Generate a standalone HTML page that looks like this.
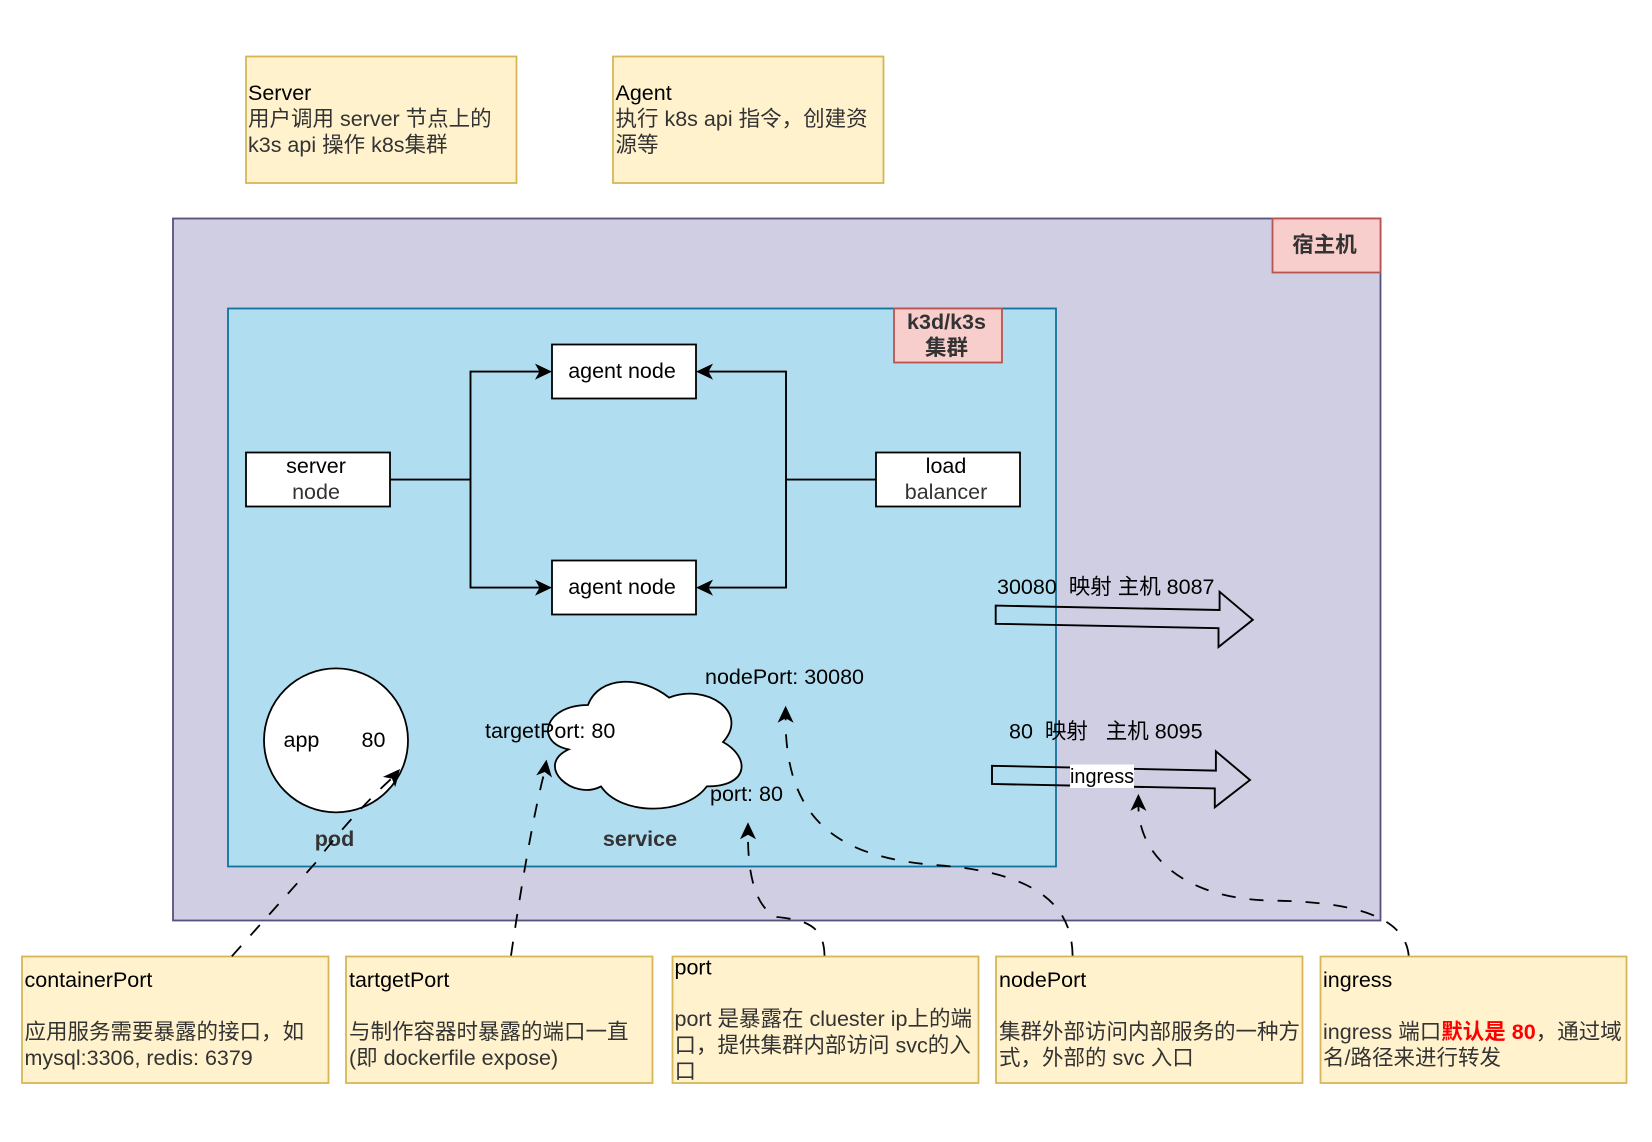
<!DOCTYPE html>
<html><head><meta charset="utf-8"><style>
html,body{margin:0;padding:0;background:#fff}
svg{display:block}
text{font-family:"Liberation Sans","Noto Sans CJK SC",sans-serif;font-size:21.5px;white-space:pre;fill:#000}
.g{fill:#333}
.b{font-weight:bold;fill:#333}
.c{text-anchor:middle}
.y{fill:#fff2cc;stroke:#d6b656;stroke-width:1.8}
.w{fill:#fff;stroke:#000;stroke-width:1.8}
.l{fill:none;stroke:#000;stroke-width:1.9}
.d{fill:none;stroke:#000;stroke-width:1.8;stroke-dasharray:14 14}
</style></head><body>
<svg xmlns="http://www.w3.org/2000/svg" width="1652" height="1142" viewBox="0 0 1652 1142">
<rect width="1652" height="1142" fill="#fff"/>
<defs><polygon id="h" points="0,0 -17,-8 -12.5,0 -17,8" fill="#000"/></defs>

<rect class="y" x="246" y="56.5" width="270.5" height="126.5"/>
<text x="248" y="100">Server</text>
<text class="g" x="248" y="126">用户调用 server 节点上的</text>
<text class="g" x="248" y="152">k3s api 操作 k8s集群</text>

<rect class="y" x="613" y="56.5" width="270.5" height="126.5"/>
<text x="615.5" y="100">Agent</text>
<text class="g" x="615.5" y="126">执行 k8s api 指令，创建资</text>
<text class="g" x="615.5" y="152">源等</text>

<rect x="173" y="218.5" width="1207.5" height="702" fill="#d0cee2" stroke="#56517e" stroke-width="1.8"/>
<rect x="1272.5" y="218.5" width="108" height="54" fill="#f8cecc" stroke="#b85450" stroke-width="1.8"/>
<text class="b c" x="1324.5" y="252">宿主机</text>

<rect x="228" y="308.5" width="828" height="558" fill="#b1ddf0" stroke="#10739e" stroke-width="1.8"/>
<rect x="894" y="308.5" width="108" height="54" fill="#f8cecc" stroke="#b85450" stroke-width="1.8"/>
<text class="b c" x="946.5" y="329">k3d/k3s</text>
<text class="b c" x="946.5" y="355">集群</text>

<path class="l" d="M390 479.6H470.5M540 371.6H470.5V587.6H540"/>
<path class="l" d="M876 479.6H786M708 371.6H786V587.6H708"/>
<use href="#h" transform="translate(552,371.6)"/>
<use href="#h" transform="translate(552,587.6)"/>
<use href="#h" transform="translate(696,371.6) rotate(180)"/>
<use href="#h" transform="translate(696,587.6) rotate(180)"/>

<rect class="w" x="552" y="344.5" width="144" height="54"/>
<text class="c" x="622" y="378">agent node</text>
<rect class="w" x="552" y="560.5" width="144" height="54"/>
<text class="c" x="622" y="594">agent node</text>
<rect class="w" x="246" y="452.5" width="144" height="54"/>
<text class="c" x="316" y="473">server</text>
<text class="g c" x="316" y="499">node</text>
<rect class="w" x="876" y="452.5" width="144" height="54"/>
<text class="c" x="946" y="473">load</text>
<text class="g c" x="946" y="499">balancer</text>

<circle class="w" cx="336" cy="740.4" r="72"/>
<text x="283.5" y="747">app</text>
<text x="361.5" y="747">80</text>
<text class="b c" x="334.5" y="846">pod</text>

<path class="w" d="M588 705 C544.8 705 534 742 568.5 749.4 C534 765.7 572.9 801.2 601 786.4 C620.5 816 685.2 816 706.8 786.4 C750 786.4 750 756.8 723 742 C750 712.4 706.8 682.8 669 697.6 C642 675.4 598.8 675.4 588 705 Z"/>
<text x="485" y="738">targetPort: 80</text>
<text x="705" y="684">nodePort: 30080</text>
<text x="710" y="801">port: 80</text>
<text class="b c" x="640" y="846">service</text>

<path class="l" d="M995.7 605.6 L1219.6 610 V591.8 L1252.8 619.8 L1218.5 647 V628.2 L995.7 623.8 Z"/>
<path class="l" d="M992 765.8 L1215.9 770.6 V751.3 L1250 780 L1214.8 807.3 V788.4 L992 784 Z"/>
<text x="997" y="594">30080  映射 主机 8087</text>
<text x="1009" y="738.5">80  映射   主机 8095</text>
<rect x="1070" y="764.5" width="64" height="23.5" fill="#fff"/>
<text x="1070" y="783" style="font-size:19.9px">ingress</text>

<rect class="y" x="22" y="956.5" width="306.5" height="126.5"/>
<text x="24.5" y="987">containerPort</text>
<text class="g" x="24.5" y="1039">应用服务需要暴露的接口，如</text>
<text class="g" x="24.5" y="1065">mysql:3306, redis: 6379</text>

<rect class="y" x="346" y="956.5" width="306.5" height="126.5"/>
<text x="349" y="987">tartgetPort</text>
<text class="g" x="349" y="1039">与制作容器时暴露的端口一直</text>
<text class="g" x="349" y="1065">(即 dockerfile expose)</text>

<rect class="y" x="672.5" y="956.5" width="306" height="126.5"/>
<text x="674.5" y="974.5">port</text>
<text class="g" x="674.5" y="1026">port 是暴露在 cluester ip上的端</text>
<text class="g" x="674.5" y="1052.5">口，提供集群内部访问 svc的入</text>
<text class="g" x="674.5" y="1078.5">口</text>

<rect class="y" x="996" y="956.5" width="306.5" height="126.5"/>
<text x="999" y="987">nodePort</text>
<text class="g" x="999" y="1039">集群外部访问内部服务的一种方</text>
<text class="g" x="999" y="1065">式，外部的 svc 入口</text>

<rect class="y" x="1320.5" y="956.5" width="306" height="126.5"/>
<text x="1323" y="987">ingress</text>
<text class="g" x="1323" y="1039">ingress 端口<tspan style="font-weight:bold;fill:#f00">默认是 80</tspan>，通过域</text>
<text class="g" x="1323" y="1065">名/路径来进行转发</text>

<path class="d" d="M231.8 956.3 L316 862.3 C340 830 368 800 391 779"/>
<use href="#h" transform="translate(400,769) rotate(-50)"/>
<path class="d" d="M511 955.6 C525 860 537 800 544.5 772"/>
<use href="#h" transform="translate(546.5,759.6) rotate(-82)"/>
<path class="d" d="M824.5 955.6 C824 925 805 920 777 917 C748 905 748 850 748 834"/>
<use href="#h" transform="translate(748,822.3) rotate(-90)"/>
<path class="d" d="M1072.6 955.6 C1072 915 1050 873 936.6 865.2 C850 858 785 830 785.6 718"/>
<use href="#h" transform="translate(785.6,705.7) rotate(-90)"/>
<path class="d" d="M1408.7 955.6 C1405 915 1350 902 1273.8 900.6 C1190 900 1139 860 1138.4 806"/>
<use href="#h" transform="translate(1138.4,793.9) rotate(-90)"/>
</svg>
</body></html>
